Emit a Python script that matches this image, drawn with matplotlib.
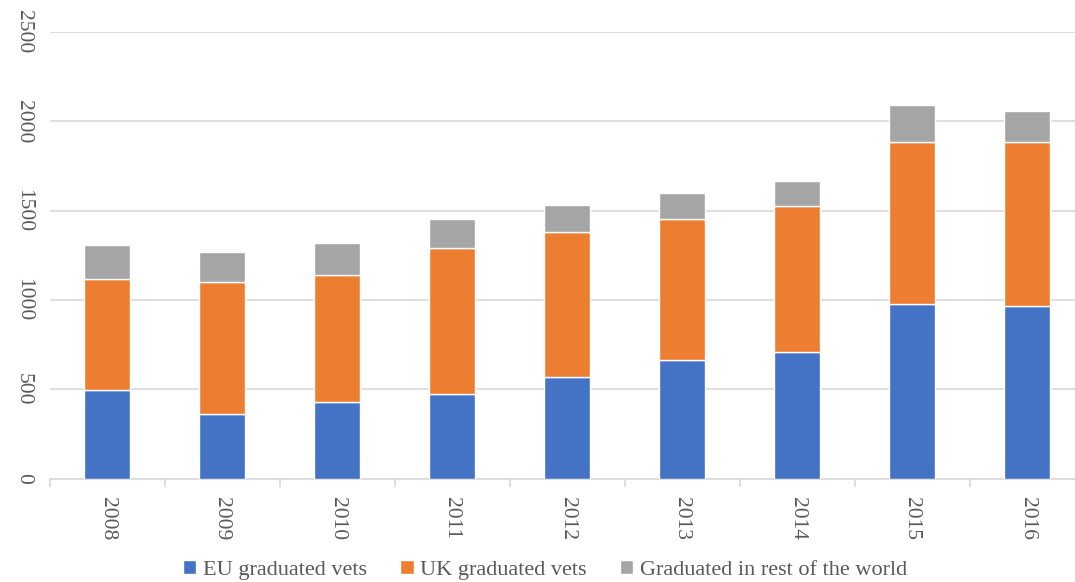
import matplotlib
matplotlib.use("Agg")
import matplotlib.pyplot as plt
import numpy as np

years = ["2008", "2009", "2010", "2011", "2012", "2013", "2014", "2015", "2016"]
eu_vets = [496, 363, 427, 472, 571, 666, 711, 976, 968]
uk_vets = [623, 738, 713, 817, 810, 789, 815, 909, 917]
rest_of_world = [189, 168, 181, 166, 149, 142, 142, 207, 175]

series_labels = ["EU graduated vets", "UK graduated vets", "Graduated in rest of the world"]
colors = ["#4472C4", "#ED7D31", "#A5A5A5"]
yticks = [0, 500, 1000, 1500, 2000, 2500]

plt.rcParams["font.family"] = ["Liberation Serif", "DejaVu Serif"]
text_color = "#595959"

fig = plt.figure(figsize=(10.75, 5.82), dpi=100)
ax = fig.add_axes([49.5 / 1075, 103.4 / 582, 1035 / 1075, 446.6 / 582])

x = np.arange(len(years))
bottom = np.zeros(len(years))
for vals, lab, col in zip([eu_vets, uk_vets, rest_of_world], series_labels, colors):
    ax.bar(x, vals, bottom=bottom, width=0.40, color=col, label=lab,
           edgecolor="white", linewidth=1.0, zorder=3)
    bottom += np.array(vals)

ax.set_xlim(-0.5, len(years) - 0.5)
ax.set_ylim(0, 2500)
ax.set_yticks(yticks)
ax.set_yticklabels([str(t) for t in yticks], rotation=-90, va="center",
                   fontsize=15.5, color=text_color)
ax.yaxis.grid(True, color="#D9D9D9", linewidth=1.2, zorder=0)
ax.tick_params(axis="y", length=0, pad=12)

ax.set_xticks(x)
ax.set_xticklabels(years, rotation=-90, fontsize=15.5, color=text_color)
ax.set_xticks(np.arange(-0.5, len(years), 1.0), minor=True)
ax.tick_params(axis="x", which="major", length=0, pad=13)
ax.tick_params(axis="x", which="minor", length=6, color="#D9D9D9", width=1.2)

for side in ["top", "right", "left"]:
    ax.spines[side].set_visible(False)
ax.spines["bottom"].set_color("#D9D9D9")
ax.spines["bottom"].set_linewidth(1.2)

fig.legend(loc="center", bbox_to_anchor=(0.507, 0.021), ncol=3, frameon=False,
           fontsize=16, handlelength=0.6, handleheight=0.6, handletextpad=0.3,
           columnspacing=1.5, labelcolor=text_color, borderaxespad=0)

fig.savefig("out.png", dpi=100)
